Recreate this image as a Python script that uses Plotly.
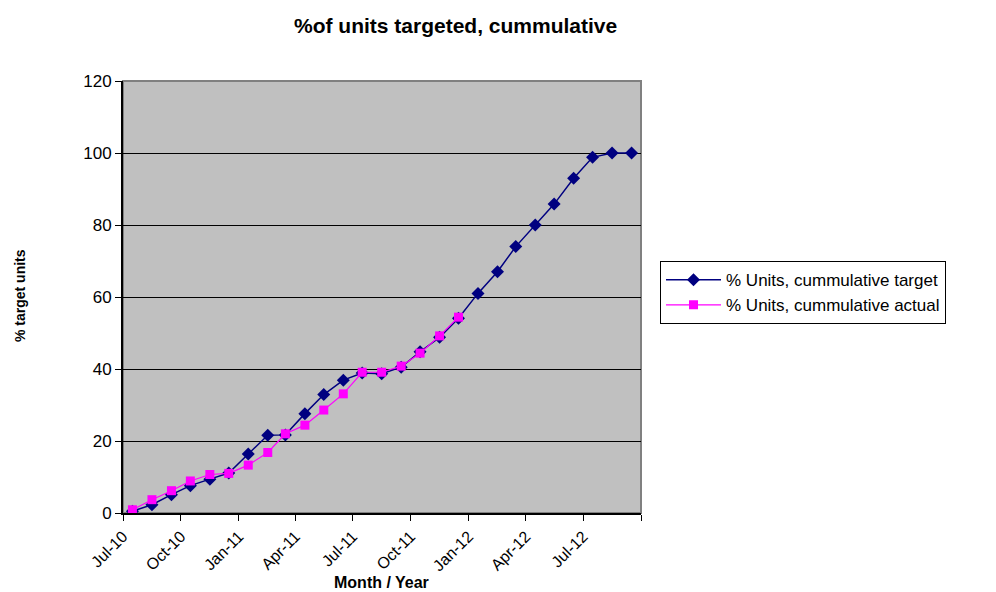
import pandas as pd
import plotly.graph_objects as go

# Monthly categories, Jul 2010 .. Sep 2012
months = pd.date_range("2010-07-01", periods=27, freq="MS")
month_mid = months + pd.Timedelta(days=15)

# Quarterly tick marks on month boundaries; the closing boundary is unlabeled
tick_dates = pd.date_range("2010-07-01", "2012-10-01", freq="3MS")
tick_labels = ["Jul-10", "Oct-10", "Jan-11", "Apr-11", "Jul-11", "Oct-11",
               "Jan-12", "Apr-12", "Jul-12", ""]

# Cumulative % of units (target plan and actual progress)
target_pct = [0.5, 2.3, 5.1, 7.6, 9.4, 11.1, 16.4, 21.6, 21.7, 27.6, 32.9, 36.9,
              38.9, 38.7, 40.5, 44.8, 48.8, 54.1, 61.0, 67.0, 74.0, 80.0, 85.8,
              93.0, 98.8, 100.0, 100.0]
actual_pct = [0.9, 3.7, 6.2, 8.9, 10.7, 11.0, 13.3, 16.8, 22.0, 24.4, 28.6, 33.1,
              39.1, 39.1, 40.8, 44.4, 49.2, 54.4]

series_names = ["% Units, cummulative target", "% Units, cummulative actual"]

FONT = "Liberation Sans, Arial, sans-serif"

fig = go.Figure()
fig.add_trace(go.Scatter(
    x=month_mid, y=target_pct, name=series_names[0], mode="lines+markers",
    line=dict(color="#000080", width=1.5),
    marker=dict(symbol="diamond", size=10, color="#000080"),
))
fig.add_trace(go.Scatter(
    x=month_mid[:len(actual_pct)], y=actual_pct, name=series_names[1],
    mode="lines+markers",
    line=dict(color="#FF00FF", width=1.2),
    marker=dict(symbol="square", size=9, color="#FF00FF"),
))

fig.update_layout(
    width=996, height=592,
    margin=dict(l=123, r=355, t=81, b=79),
    paper_bgcolor="white",
    plot_bgcolor="#C0C0C0",
    font=dict(family=FONT, color="black"),
    showlegend=True,
    legend=dict(
        x=1.0367, y=0.583, xanchor="left", yanchor="top",
        bgcolor="white", bordercolor="black", borderwidth=1,
        font=dict(size=17, family=FONT), itemwidth=55,
        tracegroupgap=0,
    ),
    xaxis=dict(
        type="date",
        range=[months[0], months[-1] + pd.offsets.MonthBegin(1)],
        tickmode="array", tickvals=tick_dates, ticktext=tick_labels,
        tickangle=-45, ticks="outside", ticklen=6, tickcolor="black",
        tickfont=dict(size=16, family=FONT),
        showline=True, linecolor="black", linewidth=1.5,
        showgrid=False, zeroline=False,
    ),
    yaxis=dict(
        range=[0, 120], dtick=20, ticks="outside", ticklen=6,
        tickcolor="black", tickfont=dict(size=17, family=FONT),
        showline=True, linecolor="black", linewidth=2,
        showgrid=True, gridcolor="black", gridwidth=1, zeroline=False,
    ),
    shapes=[dict(
        type="rect", xref="paper", yref="paper", x0=0, x1=1, y0=0, y1=1,
        line=dict(color="#808080", width=2), layer="below",
    )],
    annotations=[
        dict(text="<b>%of units targeted, cummulative</b>", xref="paper",
             yref="paper", x=(455 - 123) / 518, y=(513 - 25) / 432,
             xanchor="center", yanchor="middle", showarrow=False,
             font=dict(size=21, family=FONT)),
        dict(text="<b>Month / Year</b>", xref="paper", yref="paper",
             x=(381 - 123) / 518, y=(513 - 582) / 432,
             xanchor="center", yanchor="middle", showarrow=False,
             font=dict(size=16, family=FONT)),
        dict(text="<b>% target units</b>", xref="paper", yref="paper",
             x=(20 - 123) / 518, y=(513 - 296) / 432, textangle=-90,
             xanchor="center", yanchor="middle", showarrow=False,
             font=dict(size=14, family=FONT)),
    ],
)

fig.write_html("out.html")
